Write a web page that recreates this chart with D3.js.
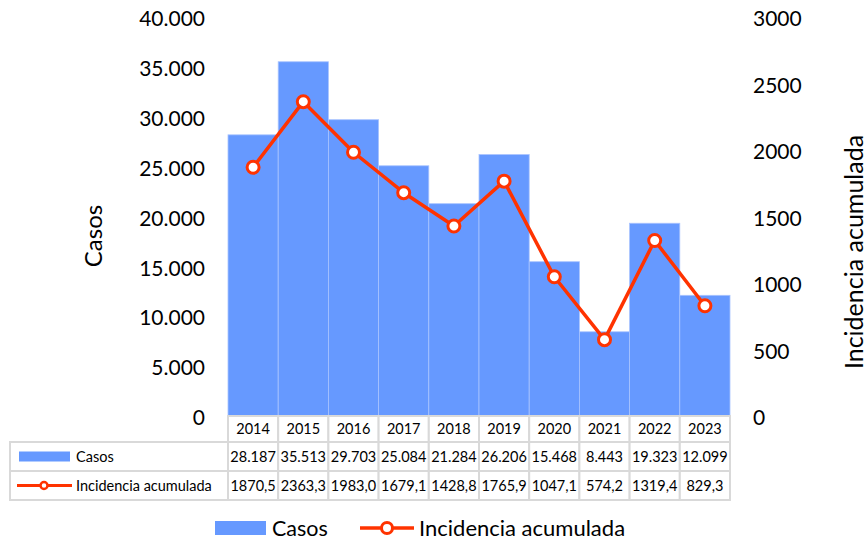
<!DOCTYPE html>
<html><head><meta charset="utf-8">
<script src="https://cdn.jsdelivr.net/npm/d3@7"></script>
<style>body{margin:0;background:#fff}svg{display:block;font-family:Lato,"Noto Sans",sans-serif}</style>
</head><body>
<svg id="c" width="867" height="549"></svg>
<script>
const years = ["2014","2015","2016","2017","2018","2019","2020","2021","2022","2023"];
const casos = [28187,35513,29703,25084,21284,26206,15468,8443,19323,12099];
const incidencia = [1870.5,2363.3,1983.0,1679.1,1428.8,1765.9,1047.1,574.2,1319.4,829.3];
const leftTicks = [0,5000,10000,15000,20000,25000,30000,35000,40000];
const rightTicks = [0,500,1000,1500,2000,2500,3000];
const seriesNames = ["Casos","Incidencia acumulada"];

const blue = "#6699FF", red = "#FF3300", grid = "#d9d9d9";
const loc = d3.formatLocale({decimal:",", thousands:".", grouping:[3], currency:["",""]});
const fmtThousands = loc.format(",d");
const fmtDec = loc.format(".1f");
const fmtPlain = d3.format("d");

const svg = d3.select("#c");
const x = d3.scaleBand().domain(years).range([228,730]).padding(0);
const yL = d3.scaleLinear().domain([0,40000]).range([416,17]);
const yR = d3.scaleLinear().domain([0,3000]).range([416,17]);

// bars
svg.append("g").selectAll("rect").data(years).join("rect")
  .attr("x", d=>x(d)).attr("width", x.bandwidth())
  .attr("y", (d,i)=>yL(casos[i])).attr("height",(d,i)=>yL(0)-yL(casos[i]))
  .attr("fill", blue).attr("stroke","#a8c3ff").attr("stroke-width",0.8);

// axes (labels only)
const axL = svg.append("g").attr("transform","translate(205,2)")
  .call(d3.axisLeft(yL).tickValues(leftTicks).tickFormat(d=>fmtThousands(d)).tickSize(0).tickPadding(0));
axL.select(".domain").remove();
axL.selectAll("text").attr("font-size",21).attr("fill","#000").attr("font-family","Lato,sans-serif");

const axR = svg.append("g").attr("transform","translate(753,2)")
  .call(d3.axisRight(yR).tickValues(rightTicks).tickFormat(fmtPlain).tickSize(0).tickPadding(0));
axR.select(".domain").remove();
axR.selectAll("text").attr("font-size",21).attr("fill","#000").attr("font-family","Lato,sans-serif");

// axis titles
svg.append("text").attr("transform","translate(102,236) rotate(-90)").attr("text-anchor","middle")
  .attr("font-size",24).text("Casos");
svg.append("text").attr("transform","translate(863,252) rotate(-90)").attr("text-anchor","middle")
  .attr("font-size",25).text("Incidencia acumulada");

// line
const line = d3.line().x((d,i)=>x(years[i])+x.bandwidth()/2).y(d=>yR(d));
svg.append("path").datum(incidencia).attr("d",line).attr("fill","none")
  .attr("stroke",red).attr("stroke-width",3.5).attr("stroke-linejoin","round");
svg.append("g").selectAll("circle").data(incidencia).join("circle")
  .attr("cx",(d,i)=>x(years[i])+x.bandwidth()/2).attr("cy",d=>yR(d)).attr("r",6)
  .attr("fill","#fff").attr("stroke",red).attr("stroke-width",3);

// data table
const tTop = 416, r1 = 442, r2 = 471, r3 = 500, tLeft = 10;
const fs = 14.5;
const tbl = svg.append("g");
tbl.selectAll("rect.h").data(years).join("rect")
  .attr("x",d=>x(d)).attr("y",tTop).attr("width",x.bandwidth()).attr("height",r1-tTop)
  .attr("fill","#fff").attr("stroke",grid).attr("stroke-width",2);
[[r1,r2],[r2,r3]].forEach(([a,b])=>{
  tbl.append("rect").attr("x",tLeft).attr("y",a).attr("width",x(years[0])-tLeft).attr("height",b-a)
    .attr("fill","#fff").attr("stroke",grid).attr("stroke-width",2);
  tbl.selectAll(null).data(years).join("rect")
    .attr("x",d=>x(d)).attr("y",a).attr("width",x.bandwidth()).attr("height",b-a)
    .attr("fill","#fff").attr("stroke",grid).attr("stroke-width",2);
});
tbl.selectAll("text.h").data(years).join("text")
  .attr("x",d=>x(d)+x.bandwidth()/2).attr("y",(tTop+r1)/2+5).attr("text-anchor","middle")
  .attr("font-size",fs).text(d=>d);
tbl.selectAll("text.c").data(casos).join("text")
  .attr("x",(d,i)=>x(years[i])+x.bandwidth()/2).attr("y",(r1+r2)/2+5).attr("text-anchor","middle")
  .attr("font-size",fs).text(d=>fmtThousands(d));
tbl.selectAll("text.i").data(incidencia).join("text")
  .attr("x",(d,i)=>x(years[i])+x.bandwidth()/2).attr("y",(r2+r3)/2+5).attr("text-anchor","middle")
  .attr("font-size",fs).text(d=>fmtDec(d));
tbl.append("rect").attr("x",19).attr("y",(r1+r2)/2-5).attr("width",51).attr("height",10).attr("fill",blue);
tbl.append("text").attr("x",76).attr("y",(r1+r2)/2+5).attr("font-size",fs).text(seriesNames[0]);
tbl.append("line").attr("x1",17).attr("x2",72).attr("y1",(r2+r3)/2).attr("y2",(r2+r3)/2)
  .attr("stroke",red).attr("stroke-width",3);
tbl.append("circle").attr("cx",44).attr("cy",(r2+r3)/2).attr("r",3.5).attr("fill","#fff")
  .attr("stroke",red).attr("stroke-width",2.5);
tbl.append("text").attr("x",76).attr("y",(r2+r3)/2+5).attr("font-size",fs).text(seriesNames[1]);

// legend
const lg = svg.append("g");
const ly = 528;
lg.append("rect").attr("x",215).attr("y",ly-7).attr("width",51).attr("height",14).attr("fill",blue);
lg.append("text").attr("x",272).attr("y",ly+8).attr("font-size",21.5).text(seriesNames[0]);
lg.append("line").attr("x1",360).attr("x2",414).attr("y1",ly).attr("y2",ly).attr("stroke",red).attr("stroke-width",3.5);
lg.append("circle").attr("cx",387).attr("cy",ly).attr("r",5.5).attr("fill","#fff").attr("stroke",red).attr("stroke-width",3);
lg.append("text").attr("x",419).attr("y",ly+8).attr("font-size",22).text(seriesNames[1]);
</script>
</body></html>
